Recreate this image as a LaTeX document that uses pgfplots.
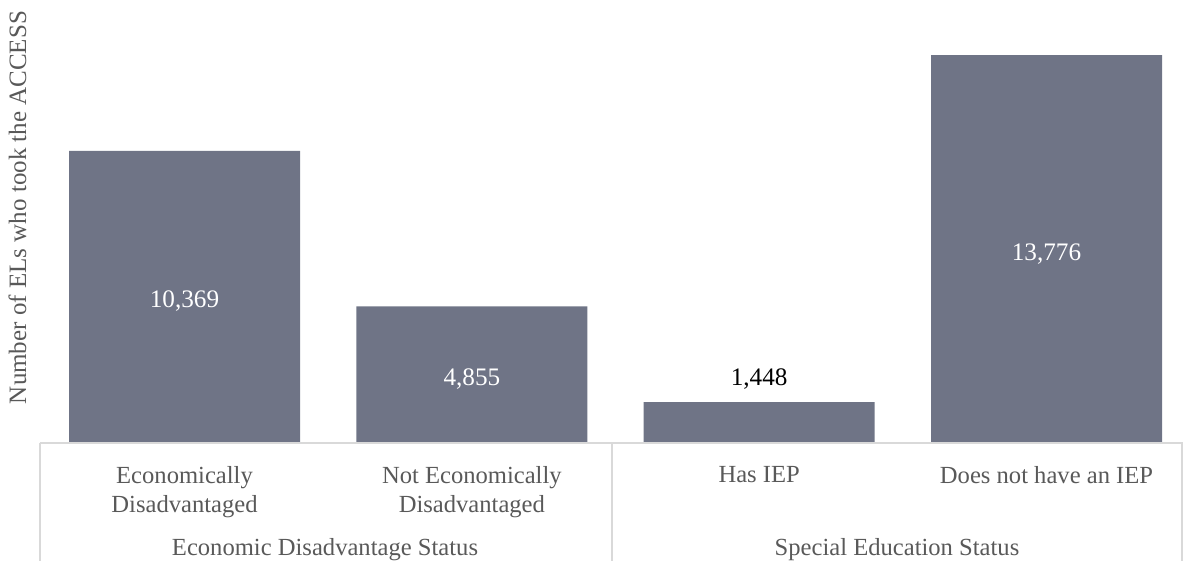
\documentclass[border=0pt]{standalone}
\usepackage{pgfplots}
\pgfplotsset{compat=1.18}
\usepackage{fontspec}
\setmainfont{Liberation Serif}
\definecolor{barc}{HTML}{6F7486}
\definecolor{txt}{HTML}{595959}
\definecolor{axl}{HTML}{D9D9D9}
\newcommand{\lf}{\fontsize{12.3}{14.5}\selectfont}
\newcommand{\df}{\fontsize{12.6}{14.5}\selectfont}
\begin{document}
\begin{tikzpicture}
\path[use as bounding box] (0,0) rectangle (591.5pt,-280.5pt);
\begin{axis}[
  at={(20pt,-221.5pt)}, anchor=south west,
  scale only axis, width=571.5pt, height=221.5pt,
  xmin=-0.503, xmax=3.475, ymin=0, ymax=15729,
  axis line style={draw=none},
  axis x line*=bottom,
  ytick=\empty,
  xtick={0,1,2,3},
  xticklabels={{Economically\\Disadvantaged},{Not Economically\\Disadvantaged},{Has IEP},{Does not have an IEP}},
  xticklabel style={align=center, font=\lf, text=txt, anchor=north, inner sep=0pt, yshift=-11.3pt},
  major tick length=0pt,
  clip=false,
]
\addplot[ybar, bar width=0.804, fill=barc, draw=none] coordinates {(0,10369) (1,4855) (2,1448) (3,13776)};
\draw[axl, line width=0.8pt] (rel axis cs:0,0) -- (rel axis cs:1,0);
\node[text=white, font=\df, anchor=base, yshift=-5.5pt] at (axis cs:0,5184.5) {10,369};
\node[text=white, font=\df, anchor=base, yshift=-5.5pt] at (axis cs:1,2427.5) {4,855};
\node[text=black, font=\df, anchor=base, yshift=8.5pt] at (axis cs:2,1448) {1,448};
\node[text=white, font=\df, anchor=base, yshift=-5.5pt] at (axis cs:3,6888) {13,776};
\end{axis}
\draw[axl, line width=0.8pt] (20pt,-221.5pt) -- (20pt,-280.5pt);
\draw[axl, line width=0.8pt] (306pt,-221.5pt) -- (306pt,-280.5pt);
\draw[axl, line width=0.8pt] (591.1pt,-221.5pt) -- (591.1pt,-280.5pt);
\node[text=txt, font=\lf, anchor=base] at (162.5pt,-277.5pt) {Economic Disadvantage Status};
\node[text=txt, font=\lf, anchor=base] at (448.5pt,-277.5pt) {Special Education Status};
\node[text=txt, font=\fontsize{12.5}{14}\selectfont, rotate=90, anchor=base] at (13pt,-103.75pt) {Number of ELs who took the ACCESS};
\end{tikzpicture}
\end{document}
